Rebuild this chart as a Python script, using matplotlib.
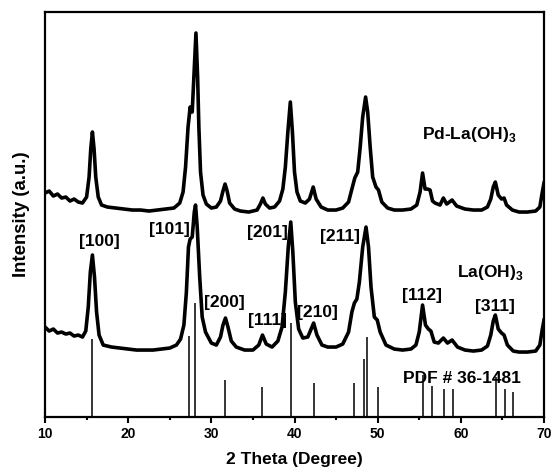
import matplotlib
matplotlib.use("Agg")
import matplotlib.pyplot as plt
from matplotlib.ticker import MultipleLocator

plt.rcParams["font.family"] = ["Liberation Sans", "DejaVu Sans"]
plt.rcParams["font.weight"] = "bold"
plt.rcParams["mathtext.fontset"] = "custom"
plt.rcParams["mathtext.rm"] = "Liberation Sans:bold"
plt.rcParams["mathtext.bf"] = "Liberation Sans:bold"

# ---------- data (2theta in degrees, intensity in arbitrary units) ----------
pd_2theta = [10.0, 10.5, 11.0, 11.5, 12.0, 12.5, 13.0, 13.5, 14.0, 14.5,
             15.0, 15.3, 15.5, 15.7, 15.9, 16.1, 16.4, 16.8, 17.5, 18.5,
             19.5, 20.5, 21.5, 22.5, 23.5, 24.5, 25.5, 26.2, 26.6, 26.9,
             27.2, 27.45, 27.7, 27.9, 28.15, 28.35, 28.5, 28.7, 29.0, 29.4,
             30.0, 30.6, 31.1, 31.4, 31.65, 31.9, 32.2, 32.8, 33.5, 34.5,
             35.5, 35.9, 36.2, 36.5, 37.0, 37.6, 38.2, 38.6, 38.9, 39.2,
             39.5, 39.75, 40.0, 40.3, 40.7, 41.3, 41.8, 42.25, 42.6, 43.2,
             44.0, 45.0, 45.8, 46.5, 46.9, 47.25, 47.6, 47.9, 48.2, 48.55,
             48.8, 49.1, 49.4, 49.8, 50.1, 50.5, 51.2, 52.0, 53.0, 54.0,
             54.7, 55.1, 55.4, 55.7, 56.0, 56.3, 56.6, 56.9, 57.5, 57.9,
             58.3, 58.95, 59.5, 60.5, 61.5, 62.5, 63.2, 63.6, 63.9, 64.15,
             64.5, 64.9, 65.2, 65.5, 66.2, 67.0, 68.0, 69.0, 69.5, 69.8, 70.0]
pd_intensity = [224, 226, 221, 223, 219, 220, 216, 218, 215, 214,
                220, 240, 268, 285, 268, 240, 220, 212, 210, 209,
                208, 207, 207, 206, 207, 208, 209, 214, 225, 250,
                290, 310, 305, 340, 384, 340, 290, 245, 222, 213,
                209, 210, 216, 226, 233, 226, 214, 208, 206, 205,
                207, 213, 219, 213, 209, 210, 216, 228, 250, 285,
                315, 285, 245, 225, 216, 214, 218, 230, 218, 210,
                207, 207, 209, 215, 228, 239, 245, 270, 300, 320,
                305, 270, 240, 230, 227, 215, 209, 207, 207, 208,
                212, 225, 244, 228, 228, 227, 216, 214, 212, 219,
                213, 217, 211, 208, 207, 207, 210, 218, 230, 235,
                222, 218, 219, 212, 207, 205, 205, 206, 210, 225, 234]

la_2theta = [10.0, 10.5, 11.0, 11.5, 12.0, 12.5, 13.0, 13.5, 14.0, 14.5,
             14.9, 15.2, 15.45, 15.7, 15.95, 16.2, 16.5, 17.0, 18.0, 19.0,
             20.0, 21.0, 22.0, 23.0, 24.0, 25.0, 25.8, 26.3, 26.7, 27.0,
             27.25, 27.45, 27.7, 27.95, 28.1, 28.3, 28.6, 28.9, 29.3, 30.0,
             30.6, 31.1, 31.4, 31.7, 32.0, 32.4, 33.0, 34.0, 35.0, 35.7,
             36.15, 36.6, 37.3, 38.0, 38.5, 38.9, 39.25, 39.55, 39.8, 40.1,
             40.5, 41.0, 41.6, 42.0, 42.3, 42.7, 43.3, 44.0, 45.0, 45.8,
             46.5, 46.9, 47.2, 47.5, 47.8, 48.2, 48.6, 48.9, 49.2, 49.6,
             49.95, 50.3, 51.0, 52.0, 53.0, 54.0, 54.6, 55.0, 55.4, 55.75,
             56.1, 56.4, 56.8, 57.3, 57.9, 58.4, 58.95, 59.6, 60.5, 61.5,
             62.5, 63.2, 63.6, 63.9, 64.15, 64.5, 64.9, 65.2, 65.6, 66.3,
             67.0, 68.0, 69.0, 69.5, 69.8, 70.0]
la_intensity = [90, 86, 88, 84, 85, 83, 84, 81, 82, 80,
                86, 110, 145, 162, 140, 105, 82, 72, 70, 69,
                68, 67, 67, 67, 68, 69, 72, 78, 92, 125,
                170, 178, 180, 205, 212, 190, 140, 100, 85, 74,
                72, 80, 92, 99, 90, 76, 70, 67, 67, 72,
                82, 73, 70, 76, 90, 125, 170, 195, 165, 115,
                88, 79, 80, 88, 94, 82, 72, 70, 70, 73,
                85, 105, 114, 118, 135, 170, 190, 170, 130, 100,
                97, 85, 72, 68, 67, 68, 72, 85, 112, 92,
                88, 86, 75, 74, 79, 74, 77, 70, 67, 66,
                67, 71, 82, 96, 102, 88, 84, 82, 72, 66,
                65, 65, 66, 72, 88, 97]

# reference pattern PDF # 36-1481
pdf_2theta = [15.63, 27.35, 28.03, 31.69, 36.11, 39.54, 42.39, 47.15, 48.31,
              48.75, 50.04, 55.43, 56.48, 57.97, 59.02, 64.25, 65.26, 66.26,
              69.96]
pdf_height = [78, 81, 114, 37, 30, 94, 34, 34, 58,
              80, 30, 42, 31, 28, 28, 40, 28, 25,
              35]

# Miller index labels: text, 2theta, intensity
hkl_text = ["[100]", "[101]", "[201]", "[211]", "[200]", "[111]", "[210]",
            "[112]", "[311]"]
hkl_x = [16.5, 25.0, 36.8, 45.5, 31.6, 36.8, 42.7, 55.3, 64.1]
hkl_y = [176, 188, 185, 181, 115, 97, 105, 122, 111]

# ---------- figure ----------
fig = plt.figure(figsize=(5.53, 4.75), dpi=100)
ax = fig.add_axes([0.0814, 0.122, 0.9023, 0.8527])

ax.plot(pd_2theta, pd_intensity, color="black", lw=2.6, solid_joinstyle="round")
ax.plot(la_2theta, la_intensity, color="black", lw=2.6, solid_joinstyle="round")
ax.vlines(pdf_2theta, 0, pdf_height, color="black", lw=1.1)

for t, x, y in zip(hkl_text, hkl_x, hkl_y):
    ax.text(x, y, t, ha="center", va="center", fontsize=12.5, fontweight="bold")

ax.text(55.3, 283, r"Pd-La(OH)$_{3}$", ha="left", va="center",
        fontsize=12.5, fontweight="bold")
ax.text(59.5, 145, r"La(OH)$_{3}$", ha="left", va="center",
        fontsize=12.5, fontweight="bold")
ax.text(53.1, 39, "PDF # 36-1481", ha="left", va="center",
        fontsize=12.5, fontweight="bold")

ax.set_xlim(10, 70)
ax.set_ylim(0, 405)
ax.xaxis.set_major_locator(MultipleLocator(10))
ax.xaxis.set_minor_locator(MultipleLocator(5))
ax.tick_params(axis="x", which="major", direction="out", length=4, width=1.5,
               labelsize=10, pad=3)
ax.tick_params(axis="x", which="minor", direction="out", length=2.5, width=1.5)
ax.set_yticks([])
for lab in ax.get_xticklabels():
    lab.set_fontweight("bold")
for sp in ax.spines.values():
    sp.set_linewidth(1.6)

ax.set_xlabel("2 Theta (Degree)", fontsize=12.5, fontweight="bold", labelpad=8)
ax.set_ylabel("Intensity (a.u.)", fontsize=13.4, fontweight="bold", labelpad=11)

fig.savefig("out.png", dpi=100)
